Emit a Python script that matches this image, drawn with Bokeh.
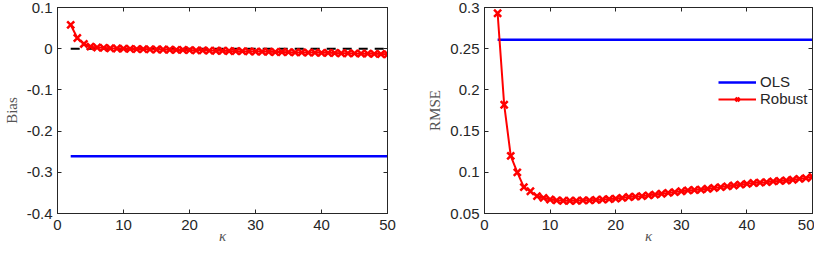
from bokeh.plotting import figure
from bokeh.layouts import row
from bokeh.models import LinearAxis, FixedTicker, Range1d, Legend, LegendItem
from bokeh.embed import file_html
from bokeh.resources import INLINE

kappa = list(range(2, 51))

bias_robust = [0.058, 0.026, 0.0115, 0.005, 0.003, 0.002, 0.001, 0.0005, 0.0, -0.0005,
               -0.001, -0.001, -0.0015, -0.002, -0.002, -0.0025, -0.003, -0.003, -0.0035, -0.004,
               -0.004, -0.0045, -0.005, -0.005, -0.0055, -0.006, -0.006, -0.0065, -0.007, -0.007,
               -0.0075, -0.008, -0.008, -0.0085, -0.009, -0.009, -0.0095, -0.0095, -0.010, -0.010,
               -0.0105, -0.011, -0.011, -0.0115, -0.012, -0.012, -0.0125, -0.013, -0.0135]
bias_ols = [-0.261] * len(kappa)
bias_true = [0.0] * len(kappa)

rmse_robust = [0.293, 0.182, 0.120, 0.100, 0.082, 0.077, 0.071, 0.069, 0.067, 0.066,
               0.0655, 0.0655, 0.0655, 0.066, 0.066, 0.0665, 0.067, 0.0675, 0.068, 0.069,
               0.070, 0.0705, 0.071, 0.072, 0.073, 0.074, 0.075, 0.076, 0.077, 0.078,
               0.0785, 0.079, 0.080, 0.081, 0.082, 0.083, 0.084, 0.085, 0.086, 0.087,
               0.0875, 0.088, 0.089, 0.0895, 0.090, 0.091, 0.092, 0.093, 0.0945]
rmse_ols = [0.261] * len(kappa)

x_ticks = [0, 10, 20, 30, 40, 50]
bias_ticks = [-0.4, -0.3, -0.2, -0.1, 0.0, 0.1]
bias_labels = ["-0.4", "-0.3", "-0.2", "-0.1", "0", "0.1"]
rmse_ticks = [0.05, 0.1, 0.15, 0.2, 0.25, 0.3]
rmse_labels = ["0.05", "0.1", "0.15", "0.2", "0.25", "0.3"]

TICK_FONT = "Liberation Sans"
LABEL_FONT = "Liberation Serif"
DARK = "#262626"


def style(p, yticks, ylabels, ylabel):
    p.xaxis.ticker = FixedTicker(ticks=x_ticks)
    p.yaxis.ticker = FixedTicker(ticks=yticks)
    p.yaxis.major_label_overrides = {t: l for t, l in zip(yticks, ylabels)}
    p.xaxis.major_label_overrides = {t: str(t) for t in x_ticks}
    for ax in (p.xaxis[0], p.yaxis[0]):
        ax.major_tick_in = 4
        ax.major_tick_out = 0
        ax.minor_tick_line_color = None
        ax.axis_line_color = DARK
        ax.major_tick_line_color = DARK
        ax.major_label_text_font = TICK_FONT
        ax.major_label_text_font_size = "15px"
        ax.major_label_text_color = DARK
        ax.axis_label_text_font = LABEL_FONT
        ax.axis_label_text_font_style = "normal"
        ax.axis_label_text_font_size = "15px"
        ax.axis_label_text_color = "#555555"
    p.xaxis.axis_label = "κ"
    p.xaxis.axis_label_text_font_style = "italic"
    p.xaxis.axis_label_text_font_size = "15px"
    p.xaxis.axis_label_standoff = -5
    p.xaxis.major_label_standoff = 6
    p.yaxis.axis_label = ylabel
    p.yaxis.major_label_standoff = 5
    p.yaxis.axis_label_standoff = 4
    for loc, tick in (("above", x_ticks), ("right", yticks)):
        ax = LinearAxis(ticker=FixedTicker(ticks=tick), major_label_text_font_size="1px",
                        major_label_text_color=None,
                        major_tick_in=4, major_tick_out=0, minor_tick_line_color=None,
                        axis_line_color=DARK, major_tick_line_color=DARK,
                        major_label_standoff=0)
        p.add_layout(ax, loc)
    p.xgrid.grid_line_color = None
    p.ygrid.grid_line_color = None
    p.outline_line_color = DARK
    p.background_fill_color = "white"
    p.border_fill_color = "white"


p1 = figure(width=412, height=246, output_backend="svg", toolbar_location=None,
            x_range=Range1d(0, 50), y_range=Range1d(-0.4, 0.1),
            min_border_left=50, min_border_right=25, min_border_top=7, min_border_bottom=20)
p1.line(kappa, bias_ols, line_color="#0000ff", line_width=2.5)
p1.line(kappa, bias_true, line_color="black", line_width=2, line_dash="9 7")
p1.line(kappa, bias_robust, line_color="#ff0000", line_width=2)
p1.scatter(kappa, bias_robust, marker="x", size=10, line_color="#ff0000", line_width=2.5)
style(p1, bias_ticks, bias_labels, "Bias")

p2 = figure(width=402, height=246, output_backend="svg", toolbar_location=None,
            x_range=Range1d(0, 50), y_range=Range1d(0.05, 0.3),
            min_border_left=72, min_border_right=2, min_border_top=7, min_border_bottom=20)
r_ols = p2.line(kappa, rmse_ols, line_color="#0000ff", line_width=2.5)
r_rob = p2.line(kappa, rmse_robust, line_color="#ff0000", line_width=2)
r_robm = p2.scatter(kappa, rmse_robust, marker="x", size=10, line_color="#ff0000", line_width=2.5)
style(p2, rmse_ticks, rmse_labels, "RMSE")

legend = Legend(items=[LegendItem(label="OLS", renderers=[r_ols]),
                       LegendItem(label="Robust", renderers=[r_rob, r_robm])],
                location=(230, 102), border_line_alpha=0, background_fill_alpha=0,
                label_text_font=TICK_FONT, label_text_font_size="15px", label_text_color=DARK,
                glyph_width=38, glyph_height=14, spacing=-5, padding=4, label_standoff=4)
p2.add_layout(legend, "center")

layout = row(p1, p2)
open("out.html", "w").write(file_html(layout, INLINE))
